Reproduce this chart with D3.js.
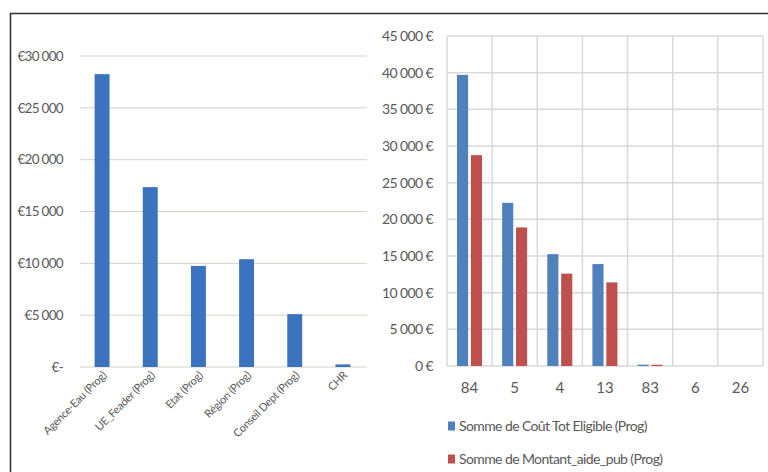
<!DOCTYPE html>
<html>
<head>
<meta charset="utf-8">
<script src="https://cdn.jsdelivr.net/npm/d3@7/dist/d3.min.js"></script>
<style>
  body { margin: 0; background: #fff; }
  svg { display: block; font-family: Lato, "Open Sans", sans-serif; }
</style>
</head>
<body>
<div id="chart"></div>
<script>
// left chart: financeurs
const funders = ['Agence-Eau (Prog)', 'UE_Feader (Prog)', 'Etat (Prog)', 'Région (Prog)', 'Conseil Dept (Prog)', 'CHR'];
const funderAmounts = [28250, 17350, 9750, 10400, 5100, 250];
const leftTicks = [0, 5000, 10000, 15000, 20000, 25000, 30000];

// right chart: codes
const codes = ['84', '5', '4', '13', '83', '6', '26'];
const coutEligible = [39700, 22250, 15250, 13900, 180, 0, 0];
const montantAide = [28750, 18900, 12600, 11400, 170, 0, 0];
const seriesNames = ['Somme de Coût Tot Eligible (Prog)', 'Somme de Montant_aide_pub (Prog)'];
const seriesColors = ['#4f81bd', '#c0504d'];
const rightTicks = [0, 5000, 10000, 15000, 20000, 25000, 30000, 35000, 40000, 45000];

const W = 768, H = 472;
const svg = d3.select('#chart').append('svg')
  .attr('width', W)
  .attr('height', H);

// frame
svg.append('path')
  .attr('d', `M10.5,${H} V13.5 H${W}`)
  .attr('fill', 'none')
  .attr('stroke', '#333')
  .attr('stroke-width', 1.6);

const spaced = v => d3.format(',')(v).replace(/,/g, '\u00a0');

// ---------- left chart ----------
const lx = d3.scaleBand().domain(funders).range([78, 367]).paddingInner(0.69).paddingOuter(0.345);
const ly = d3.scaleLinear().domain([0, 30000]).range([367, 56]);

const left = svg.append('g');
left.selectAll('line.grid')
  .data(leftTicks)
  .enter().append('line')
  .attr('class', 'grid')
  .attr('x1', 80).attr('x2', 367)
  .attr('y1', d => ly(d)).attr('y2', d => ly(d))
  .attr('stroke', '#d6d2cc')
  .attr('stroke-width', 1);

left.selectAll('text.ytick')
  .data(leftTicks)
  .enter().append('text')
  .attr('class', 'ytick')
  .attr('x', 63)
  .attr('y', d => ly(d))
  .attr('dy', '0.35em')
  .attr('text-anchor', 'end')
  .attr('font-size', 13.5)
  .attr('letter-spacing', -0.7)
  .attr('fill', '#5a5a5a')
  .text(d => d === 0 ? '€-' : '€' + spaced(d));

left.selectAll('rect')
  .data(funders)
  .enter().append('rect')
  .attr('x', d => lx(d))
  .attr('width', lx.bandwidth())
  .attr('y', (d, i) => ly(funderAmounts[i]))
  .attr('height', (d, i) => ly(0) - ly(funderAmounts[i]))
  .attr('fill', '#3b73bf');

left.selectAll('text.xtick')
  .data(funders)
  .enter().append('text')
  .attr('class', 'xtick')
  .attr('transform', d => `translate(${lx(d) + lx.bandwidth() / 2 + 5},${ly(0) + 9}) rotate(-45)`)
  .attr('text-anchor', 'end')
  .attr('font-size', 11)
  .attr('letter-spacing', -0.3)
  .attr('fill', '#5a5a5a')
  .text(d => d);

// ---------- right chart ----------
const rx = d3.scaleBand().domain(codes).range([447, 763]);
const rx1 = d3.scaleBand().domain(seriesNames).range([10, 35]).paddingInner(0.2);
const ry = d3.scaleLinear().domain([0, 45000]).range([366, 36]);

const right = svg.append('g');
right.selectAll('line.hgrid')
  .data(rightTicks)
  .enter().append('line')
  .attr('class', 'hgrid')
  .attr('x1', 447).attr('x2', 763)
  .attr('y1', d => ry(d)).attr('y2', d => ry(d))
  .attr('stroke', '#d9d9d9')
  .attr('stroke-width', 1.5);

const bounds = codes.map(c => rx(c)).concat([rx.range()[1]]);
right.selectAll('line.vgrid')
  .data(bounds)
  .enter().append('line')
  .attr('class', 'vgrid')
  .attr('x1', d => d).attr('x2', d => d)
  .attr('y1', ry(45000)).attr('y2', ry(0))
  .attr('stroke', '#d9d9d9')
  .attr('stroke-width', 1.5);

right.selectAll('text.ytick')
  .data(rightTicks)
  .enter().append('text')
  .attr('class', 'ytick')
  .attr('x', 433)
  .attr('y', d => ry(d))
  .attr('dy', '0.35em')
  .attr('text-anchor', 'end')
  .attr('font-size', 14)
  .attr('letter-spacing', -0.6)
  .attr('fill', '#595959')
  .text(d => spaced(d) + '\u00a0€');

const series = [coutEligible, montantAide];
series.forEach((vals, s) => {
  right.selectAll('rect.s' + s)
    .data(codes)
    .enter().append('rect')
    .attr('class', 's' + s)
    .attr('x', d => rx(d) + rx1(seriesNames[s]))
    .attr('width', rx1.bandwidth())
    .attr('y', (d, i) => ry(vals[i]))
    .attr('height', (d, i) => ry(0) - ry(vals[i]))
    .attr('fill', seriesColors[s]);
});

right.selectAll('text.xtick')
  .data(codes)
  .enter().append('text')
  .attr('class', 'xtick')
  .attr('x', d => rx(d) + rx.bandwidth() / 2)
  .attr('y', 388)
  .attr('dy', '0.35em')
  .attr('text-anchor', 'middle')
  .attr('font-size', 15)
  .attr('fill', '#595959')
  .text(d => d);

// legend
const legend = right.selectAll('g.legend')
  .data(seriesNames)
  .enter().append('g')
  .attr('class', 'legend')
  .attr('transform', (d, i) => `translate(448,${426 + i * 33})`);

legend.append('rect')
  .attr('x', 0).attr('y', -4.5)
  .attr('width', 7).attr('height', 9)
  .attr('fill', (d, i) => seriesColors[i]);

legend.append('text')
  .attr('x', 11)
  .attr('y', 0)
  .attr('dy', '0.35em')
  .attr('font-size', 14)
  .attr('letter-spacing', -0.6)
  .attr('fill', '#595959')
  .text(d => d);
</script>
</body>
</html>
